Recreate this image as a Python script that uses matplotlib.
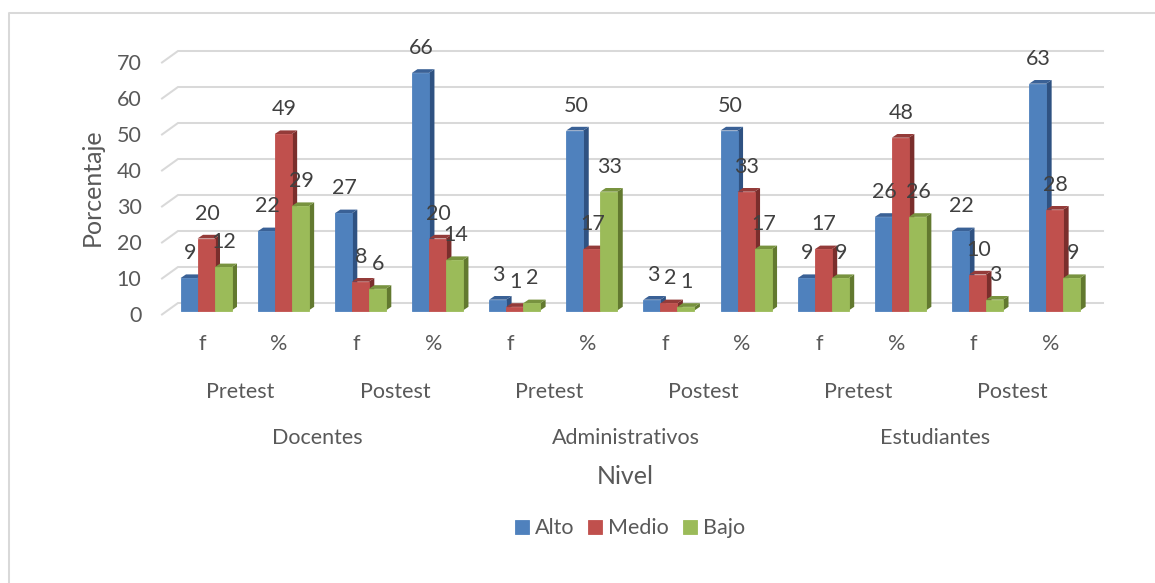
import matplotlib
matplotlib.use("Agg")
import matplotlib.pyplot as plt
from matplotlib.lines import Line2D
from matplotlib.transforms import ScaledTranslation

plt.rcParams['font.family'] = ['Lato', 'DejaVu Sans']

# ---- data ----
measures = ['f', '%', 'f', '%', 'f', '%', 'f', '%', 'f', '%', 'f', '%']
tests = ['Pretest', 'Postest', 'Pretest', 'Postest', 'Pretest', 'Postest']
levels = ['Docentes', 'Administrativos', 'Estudiantes']
alto = [9, 22, 27, 66, 3, 50, 3, 50, 9, 26, 22, 63]
medio = [20, 49, 8, 20, 1, 17, 2, 33, 17, 48, 10, 28]
bajo = [12, 29, 6, 14, 2, 33, 1, 17, 9, 26, 3, 9]
series = [('Alto', alto), ('Medio', medio), ('Bajo', bajo)]
yticks = [0, 10, 20, 30, 40, 50, 60, 70]

# ---- style ----
W, H = 1155, 583
front = {'Alto': '#4F81BD', 'Medio': '#C0504D', 'Bajo': '#9BBB59'}
top = {'Alto': '#3A6196', 'Medio': '#943B39', 'Bajo': '#78933F'}
side = {'Alto': '#2F5282', 'Medio': '#7A2E2C', 'Bajo': '#62792F'}
GRID = '#D9D9D9'
TXT = '#595959'
LBL = '#404040'
FS = 15.5
FS_TITLE = 18

PX_X = 77.15            # px per category
PX_Y = 3.6              # px per unit
X0 = 206.0              # px of category 0 centre
Y0 = 310.5              # px of value 0
AX_L, AX_R, AX_T = 145, 1110, 40.5


def xd(px):
    return (px - X0) / PX_X


def yd(py):
    return (Y0 - py) / PX_Y


fig = plt.figure(figsize=(W / 100, H / 100), dpi=100, facecolor='white')
fig.add_artist(Line2D([8.5 / W, 8.5 / W, 1], [0, 1 - 13 / H, 1 - 13 / H],
                      transform=fig.transFigure, color='#D9D9D9', lw=1.45))
ax = fig.add_axes([AX_L / W, 1 - Y0 / H, (AX_R - AX_L) / W, (Y0 - AX_T) / H])
ax.set_xlim(xd(AX_L), xd(AX_R))
ax.set_ylim(0, yd(AX_T))
ax.patch.set_alpha(0)
for s in ax.spines.values():
    s.set_visible(False)

# gridlines: floor stub + back wall
back_dy = 7.5 / PX_Y
stub_dy = -4.0 / PX_Y
for v in yticks:
    ax.plot([xd(162), xd(178), xd(1103)], [v + stub_dy, v + back_dy, v + back_dy],
            color=GRID, lw=1.45, clip_on=False, zorder=1, solid_joinstyle='miter')

# bars with pseudo-3D depth
bw = 17.0 / PX_X
ddx = 5.5 / PX_X
ddy = 3.7 / PX_Y
z = 2
for i in range(len(measures)):
    for k, (name, vals) in enumerate(series):
        v = vals[i]
        x0 = i + (k - 1.5) * bw
        x1 = x0 + bw
        ax.fill([x1, x1 + ddx, x1 + ddx, x1], [0, ddy, v + ddy, v],
                color=side[name], lw=0, clip_on=False, zorder=z)
        ax.fill([x0, x1, x1 + ddx, x0 + ddx], [v, v, v + ddy, v + ddy],
                color=top[name], lw=0, clip_on=False, zorder=z)
        ax.bar(x0, v, width=bw, align='edge', color=front[name], lw=0.6,
               edgecolor=front[name], clip_on=False, zorder=z + 0.5,
               label=name if i == 0 else None)
        z += 1

# data labels
for i in range(len(measures)):
    for k, (name, vals) in enumerate(series):
        ax.text(i + (k - 1) * bw + 1 / PX_X, vals[i] + 25 / PX_Y, str(vals[i]),
                ha='center', va='center', fontsize=FS, color=LBL, zorder=500,
                clip_on=False)

# axes ticks
ax.set_yticks(yticks)
ax.set_xticks([i - 4 / PX_X for i in range(len(measures))])
ax.set_xticklabels(measures)
ax.tick_params(axis='both', length=0, labelsize=FS, labelcolor=TXT)
ax.tick_params(axis='x', pad=17)
ax.tick_params(axis='y', pad=2.5)
shift = ScaledTranslation(0, -4 / 100, fig.dpi_scale_trans)
for lab in ax.get_yticklabels():
    lab.set_transform(lab.get_transform() + shift)

# multi-level category labels
for j, t in enumerate(tests):
    ax.text(2 * j + 0.5 - 4 / PX_X, yd(392), t, ha='center', va='center',
            fontsize=FS, color=TXT, clip_on=False)
for j, t in enumerate(levels):
    ax.text(4 * j + 1.5 - 4 / PX_X, yd(438), t, ha='center', va='center',
            fontsize=FS, color=TXT, clip_on=False)

ax.set_xlabel('Nivel', fontsize=FS_TITLE, color=TXT)
ax.xaxis.set_label_coords((625 - AX_L) / (AX_R - AX_L), (Y0 - 477) / (Y0 - AX_T))
ax.xaxis.label.set_va('center')
ax.set_ylabel('Porcentaje', fontsize=FS_TITLE, color=TXT)
ax.yaxis.set_label_coords((92 - AX_L) / (AX_R - AX_L), (Y0 - 187) / (Y0 - AX_T))
ax.yaxis.label.set_va('center')

leg = ax.legend(loc='center', bbox_to_anchor=((630 - AX_L) / (AX_R - AX_L), (Y0 - 528.5) / (Y0 - AX_T)),
                ncol=3, frameon=False, fontsize=FS, labelcolor=TXT, handlelength=0.65,
                handleheight=0.65, handletextpad=0.28, columnspacing=0.65, borderpad=0)

fig.savefig('out.png', dpi=100, facecolor='white')
